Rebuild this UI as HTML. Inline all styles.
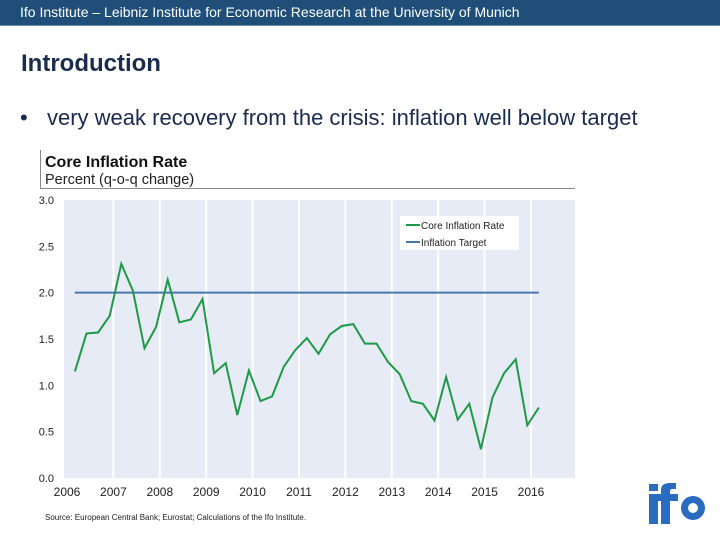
<!DOCTYPE html>
<html><head><meta charset="utf-8"><style>
body{margin:0;width:720px;height:540px;background:#fff;font-family:"Liberation Sans",sans-serif;overflow:hidden;position:relative}
.abs{position:absolute}
</style></head><body>
<div class="abs" style="left:0;top:0;width:720px;height:25px;background:#1f4e79;border-bottom:1px solid #6f8fb0"></div>
<div class="abs" style="left:20px;top:4px;color:#fff;font-size:14px">Ifo Institute – Leibniz Institute for Economic Research at the University of Munich</div>
<div class="abs" style="left:21px;top:50px;font-size:24px;font-weight:bold;color:#1a2b50">Introduction</div>
<div class="abs" style="left:20px;top:105px;font-size:22px;color:#1a2b50">•</div>
<div class="abs" style="left:47px;top:105px;font-size:22px;color:#1a2b50;white-space:nowrap">very weak recovery from the crisis: inflation well below target</div>
<svg class="abs" style="left:0;top:0" width="720" height="540" id="chart">
<line x1="40.5" y1="150" x2="40.5" y2="188" stroke="#888"/>
<line x1="40" y1="188.5" x2="575" y2="188.5" stroke="#888"/>
<text x="45" y="167" font-size="16" font-weight="bold" fill="#111">Core Inflation Rate</text>
<text x="45" y="184" font-size="14.5" fill="#222">Percent (q-o-q change)</text>
<rect x="64" y="200" width="511" height="278" fill="#e6ebf5"/>
<g id="grid"></g><g id="yt"></g><g id="xt"></g><g id="series"></g>
<rect x="400" y="216" width="119" height="34" fill="#fff"/>
<line x1="406" y1="225" x2="420" y2="225" stroke="#1e9a47" stroke-width="2"/>
<text x="421" y="229" font-size="10" fill="#222">Core Inflation Rate</text>
<line x1="406" y1="242" x2="420" y2="242" stroke="#4a76b0" stroke-width="2"/>
<text x="421" y="246" font-size="10" fill="#222">Inflation Target</text>
<text x="45" y="520" font-size="8" fill="#222">Source: European Central Bank; Eurostat; Calculations of the Ifo Institute.</text>
<g fill="#2a6cc0">
<rect x="649" y="494" width="9" height="30"/><rect x="649" y="484" width="9" height="7"/>
<rect x="661" y="493" width="9" height="31"/><path d="M661 500 V490 q0-7 9-7 h6 v6 h-4 q-2 0-2 3 v8z"/><rect x="656" y="494" width="22" height="7"/>
<circle cx="693" cy="508" r="12"/><circle cx="693" cy="508" r="5" fill="#fff"/>
</g>
</svg>
<script>
const years=[2006,2007,2008,2009,2010,2011,2012,2013,2014,2015,2016];
const yTicks=[0,0.5,1.0,1.5,2.0,2.5,3.0];
const coreRate=[1.15,1.56,1.57,1.75,2.31,2.02,1.40,1.63,2.14,1.68,1.71,1.93,1.13,1.24,0.68,1.16,0.83,0.88,1.20,1.38,1.51,1.34,1.55,1.64,1.66,1.45,1.45,1.25,1.12,0.83,0.80,0.62,1.09,0.63,0.80,0.31,0.87,1.13,1.28,0.57,0.76];
const startTime=2006.17, step=0.25;
const targetValue=[2.0];
const X=t=>67+(t-2006)*46.4, Y=v=>478-v*92.7;
const NS="http://www.w3.org/2000/svg";
function mk(tag,attrs,parent,txt){const e=document.createElementNS(NS,tag);for(const k in attrs)e.setAttribute(k,attrs[k]);if(txt!==undefined)e.textContent=txt;document.getElementById(parent).appendChild(e);return e;}
years.forEach(y=>{
 if(y>2006){const g=mk('line',{x1:X(y),x2:X(y),y1:200,y2:478,stroke:'#fff','stroke-width':2},'grid');
 
 }
 const t=mk('text',{x:X(y),y:496,'font-size':12,'text-anchor':'middle',fill:'#222'},'xt',String(y));
 
 
});
yTicks.forEach(v=>{
 const t=mk('text',{x:54,y:Y(v)+4,'font-size':11,'text-anchor':'end',fill:'#222'},'yt',v.toFixed(1));
 
 
});
const tl=mk('line',{x1:X(startTime),x2:X(startTime+(coreRate.length-1)*step),y1:Y(targetValue[0]),y2:Y(targetValue[0]),stroke:'#4a76b0','stroke-width':2},'series');


const pts=coreRate.map((v,i)=>X(startTime+i*step).toFixed(1)+','+Y(v).toFixed(1)).join(' ');
const pl=mk('polyline',{points:pts,fill:'none',stroke:'#1e9a47','stroke-width':2,'stroke-linejoin':'miter'},'series');


</script>
</body></html>
